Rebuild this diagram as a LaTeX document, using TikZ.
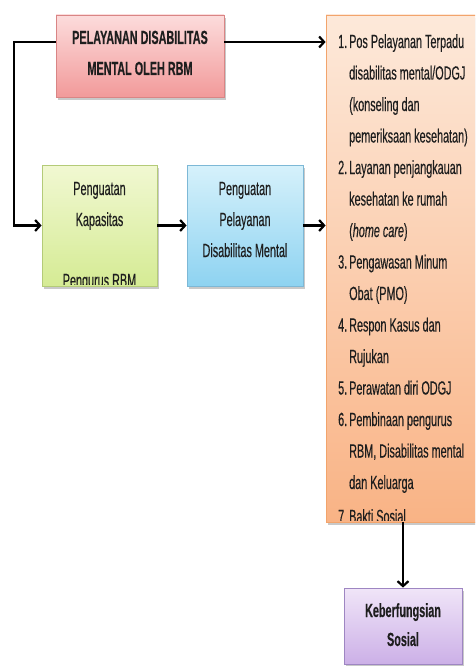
\documentclass[tikz,border=0pt]{standalone}
\usepackage{fontspec}
\setmainfont{Liberation Sans}[FakeStretch=0.57, FakeBold=0.35]
\usetikzlibrary{arrows.meta,shadows}
\definecolor{pinkT}{HTML}{FCDCDC}
\definecolor{pinkB}{HTML}{F29A9A}
\definecolor{pinkD}{HTML}{D98585}
\definecolor{greenT}{HTML}{F1F8D2}
\definecolor{greenB}{HTML}{D5EB94}
\definecolor{greenD}{HTML}{B4CB78}
\definecolor{blueT}{HTML}{D6F1FB}
\definecolor{blueB}{HTML}{8ED3F1}
\definecolor{blueD}{HTML}{7DB8D6}
\definecolor{orangeT}{HTML}{FDE9DA}
\definecolor{orangeB}{HTML}{F9B385}
\definecolor{orangeD}{HTML}{F2A46C}
\definecolor{purpleT}{HTML}{F0E5F8}
\definecolor{purpleB}{HTML}{CCB0E7}
\definecolor{purpleD}{HTML}{9E86C2}
\definecolor{ink}{HTML}{1E1E1E}
\begin{document}
\begin{tikzpicture}[x=1pt,y=-1pt,
  boxstyle/.style={inner sep=0pt, line width=0.8pt,
    drop shadow={shadow xshift=1.5pt, shadow yshift=-3pt, opacity=0.35, fill=black!60}},
  txt/.style={inner sep=0pt, text=ink, font=\fontsize{19}{22}\selectfont},
  btxt/.style={txt, font=\fontsize{19}{22}\selectfont\bfseries},
  conn/.style={line width=2.2pt, draw=black, -{Straight Barb[length=5pt,width=11pt]}}]
\clip (0,0) rectangle (475,666);
\fill[white] (0,0) rectangle (475,666);

% boxes
\node[boxstyle, draw=pinkD, top color=pinkT, bottom color=pinkB,
  minimum width=168pt, minimum height=82pt] (pink) at (140,56) {};
\node[boxstyle, draw=greenD, top color=greenT, bottom color=greenB,
  minimum width=115pt, minimum height=121pt] (green) at (99.5,225.5) {};
\node[boxstyle, draw=blueD, top color=blueT, bottom color=blueB,
  minimum width=116pt, minimum height=121pt] (blue) at (245,225.5) {};
\node[boxstyle, draw=orangeD, top color=orangeT, bottom color=orangeB,
  minimum width=160pt, minimum height=507pt] (orange) at (406,268.5) {};
\node[boxstyle, draw=purpleD, top color=purpleT, bottom color=purpleB,
  minimum width=118pt, minimum height=76pt] (purple) at (403,626) {};

% pink text
\node[btxt, anchor=base] (p1) at (140,44) {PELAYANAN DISABILITAS};
\node[btxt, anchor=base] (p2) at (140,75) {MENTAL OLEH RBM};

% green text (clipped)
\begin{scope}
\clip (green.north west) rectangle ([yshift=1.5pt]green.south east);
\node[txt, anchor=base] (g1) at (99.5,195) {Penguatan};
\node[txt, anchor=base] (g2) at (99.5,226) {Kapasitas};
\node[txt, anchor=base] (g3) at (99.5,287) {Pengurus RBM};
\end{scope}

% blue text
\node[txt, anchor=base] (b1) at (245,195) {Penguatan};
\node[txt, anchor=base] (b2) at (245,226) {Pelayanan};
\node[txt, anchor=base] (b3) at (245,257) {Disabilitas Mental};

% orange list (clipped)
\begin{scope}
\clip (orange.north west) rectangle ([yshift=1.5pt]orange.south east);
\def\nx{338}\def\cx{349}
\node[txt, anchor=base west] (o0)  at (\nx,48.0)  {\makebox[11pt][l]{1.}Pos Pelayanan Terpadu};
\node[txt, anchor=base west] (o1)  at (\cx,79.5)  {disabilitas mental/ODGJ};
\node[txt, anchor=base west] (o2)  at (\cx,111.0) {(konseling dan};
\node[txt, anchor=base west] (o3)  at (\cx,142.5) {pemeriksaan kesehatan)};
\node[txt, anchor=base west] (o4)  at (\nx,174.0) {\makebox[11pt][l]{2.}Layanan penjangkauan};
\node[txt, anchor=base west] (o5)  at (\cx,205.5) {kesehatan ke rumah};
\node[txt, anchor=base west] (o6)  at (\cx,237.0) {(\textit{home care})};
\node[txt, anchor=base west] (o7)  at (\nx,268.5) {\makebox[11pt][l]{3.}Pengawasan Minum};
\node[txt, anchor=base west] (o8)  at (\cx,300.0) {Obat (PMO)};
\node[txt, anchor=base west] (o9)  at (\nx,331.5) {\makebox[11pt][l]{4.}Respon Kasus dan};
\node[txt, anchor=base west] (o10) at (\cx,363.0) {Rujukan};
\node[txt, anchor=base west] (o11) at (\nx,394.5) {\makebox[11pt][l]{5.}Perawatan diri ODGJ};
\node[txt, anchor=base west] (o12) at (\nx,426.0) {\makebox[11pt][l]{6.}Pembinaan pengurus};
\node[txt, anchor=base west] (o13) at (\cx,457.5) {RBM, Disabilitas mental};
\node[txt, anchor=base west] (o14) at (\cx,489.0) {dan Keluarga};
\node[txt, anchor=base west] (o15) at (\nx,523.0) {\makebox[11pt][l]{7}Bakti Sosial};
\end{scope}

% purple text
\node[btxt, anchor=base] (k1) at (403,617) {Keberfungsian};
\node[btxt, anchor=base] (k2) at (403,646) {Sosial};

% connectors
\coordinate (lft) at (14,42);
\draw[conn] (pink.west |- lft) -- (lft) |- (green.west);
\draw[conn] (pink.east |- lft) -- (orange.west |- lft);
\draw[conn] (green.east) -- (blue.west);
\draw[conn] (blue.east) -- (orange.west |- blue.east);
\draw[conn] (orange.south -| purple.north) -- (purple.north);
\end{tikzpicture}
\end{document}
